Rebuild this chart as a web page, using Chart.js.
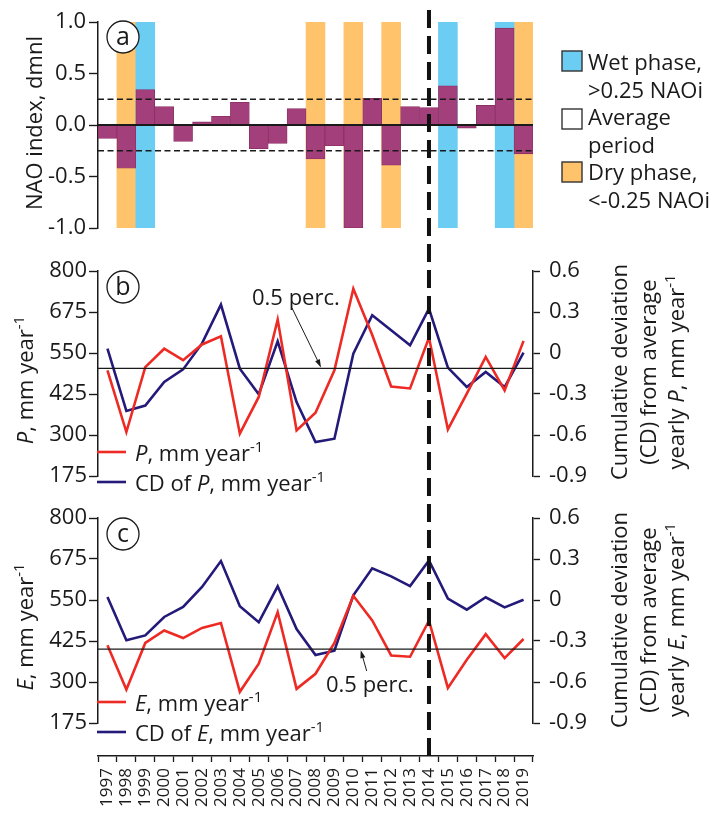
<!DOCTYPE html>
<html><head><meta charset="utf-8">
<script src="https://cdn.jsdelivr.net/npm/chart.js@4.4.1/dist/chart.umd.min.js"></script>
<style>
html,body{margin:0;padding:0;background:#fff;}
body{position:relative;width:717px;height:825px;overflow:hidden;}
canvas{position:absolute;left:0;}
</style></head><body>
<canvas id="cA" width="717" height="245" style="top:0;width:717px;height:245px"></canvas>
<canvas id="cB" width="717" height="255" style="top:245px;width:717px;height:255px"></canvas>
<canvas id="cC" width="717" height="260" style="top:495px;width:717px;height:260px"></canvas>
<canvas id="cD" width="717" height="85" style="top:740px;width:717px;height:85px"></canvas>
<script>
// ---------- data ----------
const years = ['1997','1998','1999','2000','2001','2002','2003','2004','2005','2006','2007','2008','2009','2010','2011','2012','2013','2014','2015','2016','2017','2018','2019'];
const naoIndex = [-0.13,-0.42,0.345,0.18,-0.16,0.03,0.084,0.22,-0.23,-0.18,0.16,-0.33,-0.20,-1.0,0.26,-0.39,0.18,0.17,0.38,-0.03,0.19,0.94,-0.28];
const naoPhase = ['','dry','wet','','','','','','','','','dry','','dry','','dry','','','wet','','','wet','dry'];
const naoTicks = [-1,-0.5,0,0.5,1];
const naoThresholds = [0.25,-0.25];
const precip = [497,309,507,563,528,576,601,304,416,652,314,368,497,746,605,448,442,597,317,426,538,436,587];
const cdPrecip = [0.032,-0.424,-0.385,-0.212,-0.12,0.07,0.354,-0.115,-0.302,0.085,-0.359,-0.651,-0.627,-0.005,0.276,0.166,0.056,0.324,-0.107,-0.249,-0.139,-0.249,0.002];
const pPerc = 503;
const evap = [412,277,419,457,434,465,480,270,356,513,279,325,419,563,488,381,377,487,282,368,446,373,431];
const cdEvap = [0.022,-0.295,-0.259,-0.124,-0.051,0.095,0.285,-0.046,-0.163,0.1,-0.212,-0.402,-0.371,0.034,0.232,0.173,0.102,0.29,0.01,-0.071,0.02,-0.054,0.002];
const ePerc = 400;
const waterTicks = [175,300,425,550,675,800];
const cdTicks = [-0.9,-0.6,-0.3,0,0.3,0.6];
const regimeShiftYear = '2014';

// ---------- style ----------
const FONT = '"Open Sans", sans-serif';
const INK = '#1a1a1a';
const C_NAO = '#A33F7A', C_WET = '#6CCDF3', C_DRY = '#FFC46B';
const C_RED = '#EE2A24', C_NAVY = '#231A7A';
Chart.defaults.font.family = FONT;
Chart.defaults.color = INK;

function setFont(ctx, size, italic){ ctx.font = (italic?'italic ':'') + size + 'px ' + FONT; }
function richWidth(ctx, segs, size){ let w=0; for(const s of segs){ setFont(ctx, s.sup?size*0.68:size, s.i); w += ctx.measureText(s.t).width; } return w; }
function drawRich(ctx, segs, x, y, size, align){
  const w = richWidth(ctx, segs, size);
  let cx = align==='center' ? x - w/2 : x;
  ctx.textAlign='left'; ctx.textBaseline='alphabetic'; ctx.fillStyle=INK;
  for(const s of segs){ const sz = s.sup?size*0.68:size; setFont(ctx, sz, s.i); ctx.fillText(s.t, cx, s.sup ? y - size*0.4 : y); cx += ctx.measureText(s.t).width; }
}
function drawRotated(ctx, segs, x, y, size){ ctx.save(); ctx.translate(x,y); ctx.rotate(-Math.PI/2); drawRich(ctx, segs, 0, 0, size, 'center'); ctx.restore(); }
function circleLabel(ctx, letter, x, y){
  ctx.save(); ctx.beginPath(); ctx.arc(x,y,16,0,Math.PI*2); ctx.fillStyle='#fff'; ctx.fill();
  ctx.lineWidth=1.3; ctx.strokeStyle=INK; ctx.stroke();
  ctx.fillStyle=INK; setFont(ctx,25,false); ctx.textAlign='center'; ctx.textBaseline='middle'; ctx.fillText(letter,x,y+0.5); ctx.restore();
}
function regimeLine(chart, canvasTop, y0, y1){
  const x = chart.scales.x.getPixelForValue(years.indexOf(regimeShiftYear));
  const ctx = chart.ctx; ctx.save(); ctx.strokeStyle='#111'; ctx.lineWidth=4; ctx.setLineDash([18,8]);
  ctx.lineDashOffset = (((canvasTop + y0 - 10) % 26) + 26) % 26;
  ctx.beginPath(); ctx.moveTo(x,y0); ctx.lineTo(x,y1); ctx.stroke(); ctx.restore();
}
function hLine(chart, scaleId, value, width, dash){
  const ca = chart.chartArea, y = chart.scales[scaleId].getPixelForValue(value), ctx = chart.ctx;
  ctx.save(); ctx.strokeStyle=INK; ctx.lineWidth=width; ctx.setLineDash(dash||[]);
  ctx.beginPath(); ctx.moveTo(ca.left,y); ctx.lineTo(ca.right,y); ctx.stroke(); ctx.restore();
}
function arrow(ctx, x0,y0,x1,y1){
  const a = Math.atan2(y1-y0,x1-x0), L=8, H=2.6;
  ctx.save(); ctx.strokeStyle=INK; ctx.fillStyle=INK; ctx.lineWidth=1;
  ctx.beginPath(); ctx.moveTo(x0,y0); ctx.lineTo(x1-Math.cos(a)*L*0.8, y1-Math.sin(a)*L*0.8); ctx.stroke();
  ctx.beginPath(); ctx.moveTo(x1,y1);
  ctx.lineTo(x1-Math.cos(a)*L+Math.sin(a)*H, y1-Math.sin(a)*L-Math.cos(a)*H);
  ctx.lineTo(x1-Math.cos(a)*L-Math.sin(a)*H, y1-Math.sin(a)*L+Math.cos(a)*H);
  ctx.closePath(); ctx.fill(); ctx.restore();
}
function lineLegend(ctx, rows){
  for(const r of rows){
    ctx.save(); ctx.strokeStyle=r.color; ctx.lineWidth=2.6; ctx.beginPath(); ctx.moveTo(97,r.y); ctx.lineTo(126,r.y); ctx.stroke(); ctx.restore();
    drawRich(ctx, r.segs, 135, r.base, 22, 'left');
  }
}
const tickFmt1 = v => Number(v).toFixed(1);
const cdFmt = v => Math.abs(v) < 1e-9 ? '0' : Number(v).toFixed(1);
const leftAxis = (ticks, fmt, pad) => ({
  position:'left',
  afterBuildTicks: s => { s.ticks = ticks.map(v => ({value:v})); },
  afterFit: s => { s.width = 98; },
  ticks:{callback: fmt, font:{size:22}, color:INK, padding:pad},
  grid:{drawOnChartArea:false, tickLength:9, color:INK, tickWidth:1.4},
  border:{color:INK, width:1.5}
});
const rightAxis = (ticks, fmt) => ({
  position:'right',
  afterBuildTicks: s => { s.ticks = ticks.map(v => ({value:v})); },
  afterFit: s => { s.width = 184; },
  ticks:{callback: fmt, font:{size:22}, color:INK, padding:9},
  grid:{drawOnChartArea:false, tickLength:7, color:INK, tickWidth:1.4},
  border:{color:INK, width:1.5}
});
const barCommon = {grouped:false, barPercentage:1, categoryPercentage:1};

// ---------- panel a ----------
new Chart(document.getElementById('cA'), {
  type:'bar',
  data:{labels:years, datasets:[
    Object.assign({label:'NAO index', data:naoIndex, backgroundColor:C_NAO, borderColor:'#8a2f63', borderWidth:0.8, order:1}, barCommon),
    Object.assign({label:'Wet phase, >0.25 NAOi', data:naoPhase.map(p => p==='wet' ? [naoTicks[0], naoTicks[naoTicks.length-1]] : null), backgroundColor:C_WET, borderWidth:0, order:2}, barCommon),
    Object.assign({label:'Dry phase, <-0.25 NAOi', data:naoPhase.map(p => p==='dry' ? [naoTicks[0], naoTicks[naoTicks.length-1]] : null), backgroundColor:C_DRY, borderWidth:0, order:2}, barCommon)
  ]},
  options:{
    responsive:false, animation:false,
    layout:{padding:{left:0,right:184,top:22,bottom:17}},
    plugins:{legend:{display:false}, tooltip:{enabled:false}},
    scales:{
      x:{display:false, offset:true},
      y:Object.assign(leftAxis(naoTicks, tickFmt1, 3), {min:-1, max:1})
    }
  },
  plugins:[{id:'panelA', afterDraw(chart){
    const ctx = chart.ctx;
    naoThresholds.forEach(t => hLine(chart,'y',t,1.3,[6,3.5]));
    hLine(chart,'y',0,2);
    regimeLine(chart, 0, 8, chart.height);
    circleLabel(ctx,'a',123,37);
    drawRotated(ctx,[{t:'NAO index, dmnl'}],42,123,22);
    const boxes = [{c:C_WET,y:51},{c:'#fff',y:109},{c:C_DRY,y:162}];
    boxes.forEach(b => { ctx.save(); ctx.fillStyle=b.c; ctx.fillRect(562,b.y,20,20); ctx.strokeStyle='#333'; ctx.lineWidth=1.4; ctx.strokeRect(562,b.y,20,20); ctx.restore(); });
    const lines = ['Wet phase,','>0.25 NAOi','Average','period','Dry phase,','<-0.25 NAOi'];
    const bases = [70,97.5,125,152.5,180,207.5];
    lines.forEach((t,i) => drawRich(ctx,[{t}],588,bases[i],22,'left'));
  }}]
});

// ---------- panel b ----------
new Chart(document.getElementById('cB'), {
  type:'line',
  data:{labels:years, datasets:[
    {label:'P, mm year-1', data:precip, yAxisID:'y', borderColor:C_RED, borderWidth:2.6, pointRadius:0, tension:0},
    {label:'CD of P, mm year-1', data:cdPrecip, yAxisID:'y1', borderColor:C_NAVY, borderWidth:2.6, pointRadius:0, tension:0}
  ]},
  options:{
    responsive:false, animation:false,
    layout:{padding:{left:0,right:0,top:26,bottom:24}},
    plugins:{legend:{display:false}, tooltip:{enabled:false}},
    scales:{
      x:{display:false, offset:true},
      y:Object.assign(leftAxis(waterTicks, v => String(v), 2), {min:175, max:800}),
      y1:Object.assign(rightAxis(cdTicks, cdFmt), {min:-0.9, max:0.6})
    }
  },
  plugins:[{id:'panelB', afterDraw(chart){
    const ctx = chart.ctx;
    hLine(chart,'y',pPerc,1.2);
    regimeLine(chart, 245, 0, chart.height);
    circleLabel(ctx,'b',123,42);
    drawRich(ctx,[{t:'0.5 perc.'}],252,60,22,'left');
    arrow(ctx, 292, 63, chart.scales.x.getPixelForValue(11)+5.5, chart.scales.y.getPixelForValue(pPerc)-1);
    drawRotated(ctx,[{t:'P',i:true},{t:', mm year'},{t:'-1',sup:true}],33,135,22);
    drawRotated(ctx,[{t:'Cumulative deviation'}],627,127,22);
    drawRotated(ctx,[{t:'(CD) from average'}],656,127,22);
    drawRotated(ctx,[{t:'yearly '},{t:'P',i:true},{t:', mm year'},{t:'-1',sup:true}],684,127,22);
    lineLegend(ctx,[
      {color:C_RED, y:207, base:215.7, segs:[{t:'P',i:true},{t:', mm year'},{t:'-1',sup:true}]},
      {color:C_NAVY, y:237, base:245.7, segs:[{t:'CD of '},{t:'P',i:true},{t:', mm year'},{t:'-1',sup:true}]}
    ]);
  }}]
});

// ---------- panel c ----------
new Chart(document.getElementById('cC'), {
  type:'line',
  data:{labels:years, datasets:[
    {label:'E, mm year-1', data:evap, yAxisID:'y', borderColor:C_RED, borderWidth:2.6, pointRadius:0, tension:0},
    {label:'CD of E, mm year-1', data:cdEvap, yAxisID:'y1', borderColor:C_NAVY, borderWidth:2.6, pointRadius:0, tension:0}
  ]},
  options:{
    responsive:false, animation:false,
    layout:{padding:{left:0,right:0,top:23,bottom:32}},
    plugins:{legend:{display:false}, tooltip:{enabled:false}},
    scales:{
      x:{display:false, offset:true},
      y:Object.assign(leftAxis(waterTicks, v => String(v), 2), {min:175, max:800}),
      y1:Object.assign(rightAxis(cdTicks, cdFmt), {min:-0.9, max:0.6})
    }
  },
  plugins:[{id:'panelC', afterDraw(chart){
    const ctx = chart.ctx;
    hLine(chart,'y',ePerc,1.2);
    regimeLine(chart, 495, 0, chart.height);
    circleLabel(ctx,'c',123,39);
    drawRich(ctx,[{t:'0.5 perc.'}],326,196.7,22,'left');
    arrow(ctx, 366.7, 176, chart.scales.x.getPixelForValue(13)+7.4, chart.scales.y.getPixelForValue(ePerc)+1);
    drawRotated(ctx,[{t:'E',i:true},{t:', mm year'},{t:'-1',sup:true}],33,132,22);
    drawRotated(ctx,[{t:'Cumulative deviation'}],627,125,22);
    drawRotated(ctx,[{t:'(CD) from average'}],656,125,22);
    drawRotated(ctx,[{t:'yearly '},{t:'E',i:true},{t:', mm year'},{t:'-1',sup:true}],684,125,22);
    lineLegend(ctx,[
      {color:C_RED, y:207, base:215.7, segs:[{t:'E',i:true},{t:', mm year'},{t:'-1',sup:true}]},
      {color:C_NAVY, y:237, base:245.7, segs:[{t:'CD of '},{t:'E',i:true},{t:', mm year'},{t:'-1',sup:true}]}
    ]);
  }}]
});

// ---------- shared x axis ----------
new Chart(document.getElementById('cD'), {
  type:'line',
  data:{labels:years, datasets:[]},
  options:{
    responsive:false, animation:false,
    layout:{padding:{left:98,right:184,top:0,bottom:0}},
    plugins:{legend:{display:false}, tooltip:{enabled:false}},
    scales:{
      x:{offset:true, afterFit: s => { s.height = 69; },
         grid:{offset:true, drawOnChartArea:false, tickLength:6, color:INK, tickWidth:1.3},
         border:{color:INK, width:1.5},
         ticks:{minRotation:90, maxRotation:90, autoSkip:false, font:{size:17}, color:INK, padding:6}},
      y:{display:false, min:0, max:1}
    }
  },
  plugins:[{id:'panelD', afterDraw(chart){ regimeLine(chart, 740, 0, chart.chartArea.bottom); }}]
});
</script>
</body></html>
